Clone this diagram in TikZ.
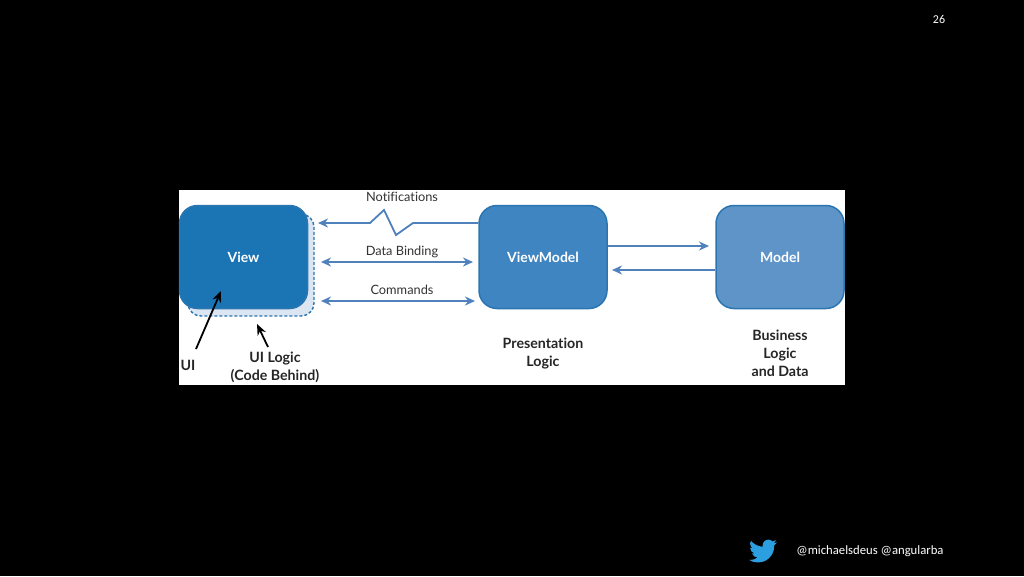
\documentclass[tikz,border=0pt]{standalone}
\usepackage{fontspec}
\setmainfont{Lato}[Ligatures=NoCommon]
\newfontfamily\slidefont{Carlito}
\usepackage{xcolor}
\usetikzlibrary{arrows.meta, positioning, calc}
\definecolor{viewblue}{RGB}{27,117,181}
\definecolor{vmblue}{RGB}{62,133,193}
\definecolor{modelblue}{RGB}{94,148,200}
\definecolor{edgeblue}{RGB}{43,117,176}
\definecolor{arrblue}{RGB}{79,129,189}
\definecolor{logicfill}{RGB}{220,230,242}
\definecolor{birdblue}{RGB}{43,159,224}

\begin{document}
\begin{tikzpicture}[
    x=1pt, y=-1pt,
    box/.style={rectangle, draw=edgeblue, line width=1.5pt, rounded corners=18pt, minimum width=128pt, minimum height=103pt, inner sep=0pt, text=white, font=\fontsize{14}{16}\selectfont\bfseries},
    lbl/.style={font=\fontsize{12.8}{15}\selectfont, text=black!80, inner sep=0pt},
    capt/.style={font=\fontsize{14.2}{18}\selectfont\bfseries, text=black!85, align=center, inner sep=0pt},
    arr/.style={-{Stealth[length=10pt, width=9pt]}, line width=1.8pt, arrblue},
    dbl/.style={{Stealth[length=10pt, width=9pt]}-{Stealth[length=10pt, width=9pt]}, line width=1.8pt, arrblue},
    ptr/.style={-{Stealth[length=11pt, width=9pt]}, line width=1.8pt, black}
]
\useasboundingbox (0,0) rectangle (1024,576);
\fill[black] (0,0) rectangle (1024,576);
\fill[white] (179,190) rectangle (845,385);

% UI logic behind the view
\node[rectangle, draw=edgeblue, fill=logicfill, dash pattern=on 3pt off 2pt, line width=1.4pt, rounded corners=13pt, minimum width=126pt, minimum height=102pt, inner sep=0pt] (logic) at (251,265) {};

% Layers
\node[box, fill=viewblue] (view) at (243.5,257) {View};
\node[box, fill=vmblue] (vm) at (543,257) {ViewModel};
\node[box, fill=modelblue] (model) at (780,257) {Model};

% Connector labels
\node[lbl] (notif) at (402,197) {Notifications};
\node[lbl] (bind) at (402,252) {Data Binding};
\node[lbl] (cmds) at (402,290) {Commands};

% Free ends
\coordinate (notifL) at (318,223);
\coordinate (notifR) at (vm.west |- notifL);
\coordinate (bindL) at (321,262);
\coordinate (bindR) at (473,262);
\coordinate (cmdsL) at (321,301);
\coordinate (cmdsR) at (475,301);
\coordinate (toModel) at (709,246);
\coordinate (toVm) at (612,270);

\draw[arr] (notifR) -- (413,223) -- (396,235) -- (384,210) -- (370,223) -- (notifL);
\draw[dbl] (bindL) -- (bindR);
\draw[dbl] (cmdsL) -- (cmdsR);
\draw[arr] (vm.east |- toModel) -- (toModel);
\draw[arr] (model.west |- toVm) -- (toVm);

% Captions
\node[capt] (ui) at (188,365) {UI};
\node[capt] (uilogic) at (275,367.5) {UI Logic\\(Code Behind)};
\node[capt] (pres) at (543,354) {Presentation\\Logic};
\node[capt] (biz) at (780,353) {Business\\Logic\\and Data};

\coordinate (uiTail) at (196,349);
\coordinate (uiTip) at (221,291);
\coordinate (logicTail) at (268,347);
\coordinate (logicTip) at (257,324);
\draw[ptr] (uiTail) -- (uiTip);
\draw[ptr] (logicTail) -- (logicTip);

% Slide furniture
\node[font=\slidefont\fontsize{12}{14}\selectfont, text=white, inner sep=0pt] (pagenum) at (939,19) {26};
\node[font=\slidefont\fontsize{12.7}{15}\selectfont, text=white, inner sep=0pt] (handle) at (870,551) {@michaelsdeus @angularba};
\fill[birdblue, shift={(749,537)}, scale=1.17] (23.95,4.57) .. controls (23.1,4.95) and (22.1,5.2) .. (21.13,5.35)
  .. controls (22.15,4.7) and (22.95,3.75) .. (23.29,2.62)
  .. controls (22.34,3.18) and (21.29,3.58) .. (20.16,3.8)
  .. controls (19.26,2.85) and (17.98,2.25) .. (16.56,2.25)
  .. controls (13.84,2.25) and (11.64,4.45) .. (11.64,7.17)
  .. controls (11.64,7.55) and (11.69,7.92) .. (11.78,8.29)
  .. controls (7.69,8.09) and (4.07,6.13) .. (1.64,3.16)
  .. controls (1.22,3.89) and (.97,4.73) .. (.97,5.64)
  .. controls (.97,7.35) and (1.84,8.85) .. (3.16,9.73)
  .. controls (2.35,9.71) and (1.6,9.49) .. (.93,9.12)
  -- (.93,9.18)
  .. controls (.93,11.56) and (2.63,13.55) .. (4.88,14.01)
  .. controls (4.17,14.2) and (3.42,14.23) .. (2.67,14.09)
  .. controls (3.3,16.05) and (5.12,17.47) .. (7.27,17.51)
  .. controls (5.58,18.83) and (3.45,19.62) .. (1.17,19.62)
  .. controls (.78,19.62) and (.39,19.6) .. (0,19.55)
  .. controls (2.18,20.95) and (4.77,21.76) .. (7.56,21.76)
  .. controls (16.61,21.76) and (21.56,14.26) .. (21.56,7.77)
  .. controls (21.56,7.56) and (21.56,7.35) .. (21.55,7.14)
  .. controls (22.51,6.45) and (23.35,5.58) .. (24,4.59) -- cycle;
\end{tikzpicture}
\end{document}
